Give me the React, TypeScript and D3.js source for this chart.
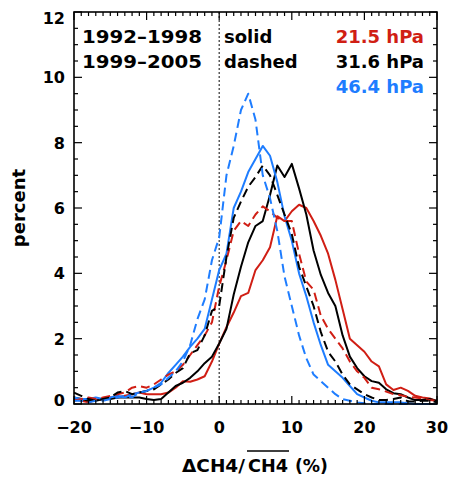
import React from 'react';
import * as d3 from 'd3';

const bins = [-20,-19,-18,-17,-16,-15,-14,-13,-12,-11,-10,-9,-8,-7,-6,-5,-4,-3,-2,-1,0,1,2,3,4,5,6,7,8,9,10,11,12,13,14,15,16,17,18,19,20,21,22,23,24,25,26,27,28,29,30];

// 1992-1998 (solid)
const red9298 = [0.15,0.1,0.05,0.12,0.15,0.2,0.2,0.25,0.3,0.35,0.3,0.3,0.3,0.35,0.5,0.7,0.68,0.75,0.85,1.3,1.85,2.35,2.8,3.3,3.4,4.1,4.4,4.8,5.75,5.6,5.9,6.1,6.0,5.6,5.15,4.6,3.8,2.9,2.0,1.8,1.6,1.3,1.15,0.6,0.43,0.5,0.4,0.25,0.2,0.17,0.07];
const black9298 = [0.2,0.15,0.1,0.1,0.15,0.15,0.2,0.2,0.2,0.2,0.15,0.12,0.15,0.35,0.55,0.65,0.8,1.0,1.25,1.45,1.85,2.3,3.35,4.2,4.95,5.45,5.6,6.4,7.3,6.95,7.35,6.6,5.8,4.7,3.95,3.4,3.0,2.1,1.45,1.1,0.85,0.7,0.65,0.45,0.33,0.3,0.2,0.12,0.12,0.15,0.1];
const blue9298 = [0.2,0.15,0.15,0.2,0.15,0.2,0.25,0.2,0.3,0.35,0.4,0.5,0.65,0.95,1.2,1.45,1.75,2.0,2.3,3.2,4.1,4.6,6.0,6.5,7.1,7.5,7.9,7.6,6.8,5.75,5.0,4.0,3.3,2.5,1.8,1.2,1.0,0.8,0.55,0.3,0.2,0.1,0.05,0.05,0.05,0.05,0.02,0,0,0,0];

// 1999-2005 (dashed)
const red9905 = [0.1,0.15,0.2,0.15,0.2,0.25,0.3,0.35,0.5,0.55,0.5,0.6,0.75,0.9,1.0,1.2,1.5,1.8,2.1,2.5,3.6,4.4,5.3,5.6,5.45,5.8,6.05,5.9,5.7,5.6,5.6,4.6,3.75,3.5,2.7,2.3,2.0,1.7,1.3,1.0,0.8,0.5,0.45,0.38,0.3,0.27,0.22,0.2,0.17,0.12,0.1];
const black9905 = [0.35,0.25,0.15,0.1,0.15,0.2,0.35,0.4,0.3,0.35,0.4,0.45,0.6,0.75,0.95,1.1,1.55,1.65,2.1,2.85,3.0,4.5,5.7,6.2,6.65,6.95,7.3,7.0,6.4,5.8,5.2,4.2,3.6,3.0,2.2,1.6,1.3,0.9,0.6,0.45,0.3,0.2,0.12,0.12,0.15,0.2,0.08,0.08,0.1,0.1,0.05];
const blue9905 = [0.1,0.1,0.05,0.1,0.1,0.15,0.2,0.25,0.2,0.35,0.4,0.5,0.6,0.8,1.0,1.3,1.8,2.6,3.2,4.4,5.1,7.0,7.9,9.0,9.5,8.7,7.0,6.3,5.3,3.9,3.0,2.1,1.4,0.9,0.7,0.5,0.3,0.15,0.1,0.05,0.02,0,0,0,0,0,0,0,0,0,0];

const xTickLabels = ['−20', '−10', '0', '10', '20', '30'];
const xTickValues = [-20, -10, 0, 10, 20, 30];
const yTickValues = [0, 2, 4, 6, 8, 10, 12];

const RED = '#d01e14';
const BLUE = '#1e7dff';
const BLACK = '#000000';

const series = [
  { name: '21.5 hPa 1992-1998', values: red9298, color: RED, dashed: false },
  { name: '31.6 hPa 1992-1998', values: black9298, color: BLACK, dashed: false },
  { name: '46.4 hPa 1992-1998', values: blue9298, color: BLUE, dashed: false },
  { name: '21.5 hPa 1999-2005', values: red9905, color: RED, dashed: true },
  { name: '31.6 hPa 1999-2005', values: black9905, color: BLACK, dashed: true },
  { name: '46.4 hPa 1999-2005', values: blue9905, color: BLUE, dashed: true },
];

const W = 452, H = 480;
const L = 74, R = 437, T = 12, B = 404;
const FONT = 'DejaVu Sans, sans-serif';

export default function App() {
  const x = d3.scaleLinear().domain([-20, 30]).range([L, R]);
  const y = d3.scaleLinear().domain([0, 12]).range([B, T]);
  const line = d3.line<[number, number]>().x(d => x(d[0])).y(d => y(d[1]));

  const xMinor = x.ticks(50);
  const yMinor = d3.range(0, 12.01, 0.5);

  return (
    <div style={{ position: 'absolute', left: 0, top: 0 }}>
      <svg width={W} height={H} style={{ display: 'block', background: '#fff' }} fontFamily={FONT}>
        <rect x={0} y={0} width={W} height={H} fill="#fff" />
        {/* zero line */}
        <line x1={x(0)} x2={x(0)} y1={T} y2={B} stroke="#333" strokeWidth={1.2} strokeDasharray="2,2" />
        {/* curves */}
        {series.map(s => (
          <path key={s.name}
            d={line(bins.map((b, i) => [b, s.values[i]] as [number, number])) || ''}
            fill="none" stroke={s.color} strokeWidth={2}
            strokeDasharray={s.dashed ? '9,5' : undefined}
            strokeLinejoin="round" />
        ))}
        {/* frame */}
        <rect x={L} y={T} width={R - L} height={B - T} fill="none" stroke="#000" strokeWidth={1.6} />
        {/* x ticks */}
        {xMinor.map(v => {
          const major = v % 10 === 0;
          const len = major ? 8 : 4;
          return (
            <g key={'xt' + v}>
              <line x1={x(v)} x2={x(v)} y1={B} y2={B - len} stroke="#000" strokeWidth={1.2} />
              <line x1={x(v)} x2={x(v)} y1={T} y2={T + len} stroke="#000" strokeWidth={1.2} />
            </g>
          );
        })}
        {yMinor.map(v => {
          const major = Math.abs(v % 2) < 1e-6;
          const len = major ? 8 : 4;
          return (
            <g key={'yt' + v}>
              <line x1={L} x2={L + len} y1={y(v)} y2={y(v)} stroke="#000" strokeWidth={1.2} />
              <line x1={R} x2={R - len} y1={y(v)} y2={y(v)} stroke="#000" strokeWidth={1.2} />
            </g>
          );
        })}
        {/* x tick labels */}
        {xTickValues.map((v, i) => (
          <text key={'xl' + v} x={x(v)} y={433} textAnchor="middle" fontSize={16} fontWeight="bold">{xTickLabels[i]}</text>
        ))}
        {/* y tick labels */}
        {yTickValues.map(v => (
          <text key={'yl' + v} x={65} y={y(v) + 6 + (v === 12 ? 6 : 0) + (v === 0 ? -4 : 0)} textAnchor="end" fontSize={16} fontWeight="bold">{v}</text>
        ))}
        {/* axis titles */}
        <text transform="translate(25,208) rotate(-90)" textAnchor="middle" fontSize={18} fontWeight="bold">percent</text>
        <text x={182} y={472} fontSize={18} fontWeight="bold" textLength={63} lengthAdjust="spacingAndGlyphs">ΔCH4/</text>
        <text x={248} y={472} fontSize={18} fontWeight="bold" textLength={40} lengthAdjust="spacingAndGlyphs">CH4</text>
        <line x1={247} x2={289} y1={451} y2={451} stroke="#000" strokeWidth={1.5} />
        <text x={295} y={472} fontSize={18} fontWeight="bold" textLength={33} lengthAdjust="spacingAndGlyphs">(%)</text>
        {/* legend */}
        <text x={82} y={43} fontSize={18} fontWeight="bold" textLength={120} lengthAdjust="spacingAndGlyphs">1992–1998</text>
        <text x={82} y={68} fontSize={18} fontWeight="bold" textLength={120} lengthAdjust="spacingAndGlyphs">1999–2005</text>
        <text x={224} y={43} fontSize={18} fontWeight="bold">solid</text>
        <text x={224} y={68} fontSize={18} fontWeight="bold">dashed</text>
        <text x={424} y={43} fontSize={18} fontWeight="bold" textAnchor="end" fill={RED}>21.5 hPa</text>
        <text x={424} y={68} fontSize={18} fontWeight="bold" textAnchor="end" fill={BLACK}>31.6 hPa</text>
        <text x={424} y={93} fontSize={18} fontWeight="bold" textAnchor="end" fill={BLUE}>46.4 hPa</text>
      </svg>
    </div>
  );
}
